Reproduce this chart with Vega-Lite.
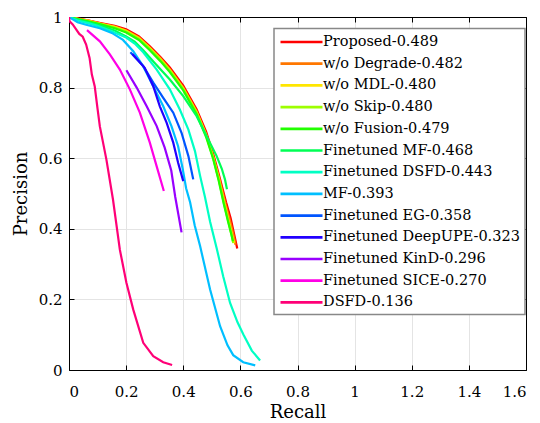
{
  "$schema": "https://vega.github.io/schema/vega-lite/v6.json",
  "autosize": "none",
  "width": 457,
  "height": 353,
  "padding": {"left": 69, "top": 17, "right": 14, "bottom": 53},
  "background": "white",
  "config": {
    "font": "DejaVu Serif",
    "view": {"stroke": null},
    "axis": {
      "domainColor": "black", "domainWidth": 1,
      "tickColor": "black", "tickSize": -5, "tickWidth": 1,
      "labelColor": "black", "labelFont": "DejaVu Serif", "labelFontSize": 15,
      "titleColor": "black", "titleFont": "DejaVu Serif", "titleFontSize": 18, "titleFontWeight": "normal",
      "gridColor": "#e4e4e4", "gridWidth": 1
    },
    "legend": {
      "orient": "none", "legendX": 205, "legendY": 11.5,
      "fillColor": "white", "strokeColor": "#888888", "strokeWidth": 1.5,
      "padding": 5, "rowPadding": 6.7,
      "symbolType": "M-1,0H5", "symbolSize": 196, "symbolStrokeWidth": 2.7,
      "labelFont": "DejaVu Serif", "labelFontSize": 14.5, "labelColor": "black",
      "labelOffset": 27, "labelLimit": 0
    }
  },
  "data": {"values": [
    {"method":"Proposed-0.489","recall":0,"precision":1.0},{"method":"Proposed-0.489","recall":0.03,"precision":0.996},{"method":"Proposed-0.489","recall":0.07,"precision":0.99},{"method":"Proposed-0.489","recall":0.11,"precision":0.983},{"method":"Proposed-0.489","recall":0.16,"precision":0.975},{"method":"Proposed-0.489","recall":0.2,"precision":0.965},{"method":"Proposed-0.489","recall":0.245,"precision":0.945},{"method":"Proposed-0.489","recall":0.283,"precision":0.917},{"method":"Proposed-0.489","recall":0.32,"precision":0.887},{"method":"Proposed-0.489","recall":0.353,"precision":0.857},{"method":"Proposed-0.489","recall":0.4,"precision":0.806},{"method":"Proposed-0.489","recall":0.447,"precision":0.738},{"method":"Proposed-0.489","recall":0.48,"precision":0.675},{"method":"Proposed-0.489","recall":0.505,"precision":0.612},{"method":"Proposed-0.489","recall":0.529,"precision":0.54},{"method":"Proposed-0.489","recall":0.55,"precision":0.475},{"method":"Proposed-0.489","recall":0.566,"precision":0.43},{"method":"Proposed-0.489","recall":0.578,"precision":0.385},{"method":"Proposed-0.489","recall":0.589,"precision":0.344},
    {"method":"w/o Degrade-0.482","recall":0,"precision":1.0},{"method":"w/o Degrade-0.482","recall":0.03,"precision":0.995},{"method":"w/o Degrade-0.482","recall":0.07,"precision":0.989},{"method":"w/o Degrade-0.482","recall":0.11,"precision":0.982},{"method":"w/o Degrade-0.482","recall":0.16,"precision":0.973},{"method":"w/o Degrade-0.482","recall":0.2,"precision":0.962},{"method":"w/o Degrade-0.482","recall":0.245,"precision":0.942},{"method":"w/o Degrade-0.482","recall":0.283,"precision":0.913},{"method":"w/o Degrade-0.482","recall":0.32,"precision":0.883},{"method":"w/o Degrade-0.482","recall":0.353,"precision":0.852},{"method":"w/o Degrade-0.482","recall":0.4,"precision":0.8},{"method":"w/o Degrade-0.482","recall":0.447,"precision":0.732},{"method":"w/o Degrade-0.482","recall":0.48,"precision":0.668},{"method":"w/o Degrade-0.482","recall":0.505,"precision":0.605},{"method":"w/o Degrade-0.482","recall":0.527,"precision":0.54},{"method":"w/o Degrade-0.482","recall":0.548,"precision":0.47},{"method":"w/o Degrade-0.482","recall":0.563,"precision":0.425},{"method":"w/o Degrade-0.482","recall":0.575,"precision":0.385},{"method":"w/o Degrade-0.482","recall":0.583,"precision":0.355},
    {"method":"w/o MDL-0.480","recall":0,"precision":1.0},{"method":"w/o MDL-0.480","recall":0.03,"precision":0.995},{"method":"w/o MDL-0.480","recall":0.07,"precision":0.989},{"method":"w/o MDL-0.480","recall":0.11,"precision":0.981},{"method":"w/o MDL-0.480","recall":0.16,"precision":0.972},{"method":"w/o MDL-0.480","recall":0.2,"precision":0.961},{"method":"w/o MDL-0.480","recall":0.245,"precision":0.94},{"method":"w/o MDL-0.480","recall":0.283,"precision":0.912},{"method":"w/o MDL-0.480","recall":0.32,"precision":0.881},{"method":"w/o MDL-0.480","recall":0.353,"precision":0.85},{"method":"w/o MDL-0.480","recall":0.4,"precision":0.798},{"method":"w/o MDL-0.480","recall":0.447,"precision":0.73},{"method":"w/o MDL-0.480","recall":0.48,"precision":0.666},{"method":"w/o MDL-0.480","recall":0.505,"precision":0.602},{"method":"w/o MDL-0.480","recall":0.525,"precision":0.54},{"method":"w/o MDL-0.480","recall":0.545,"precision":0.47},{"method":"w/o MDL-0.480","recall":0.56,"precision":0.42},{"method":"w/o MDL-0.480","recall":0.572,"precision":0.38},{"method":"w/o MDL-0.480","recall":0.578,"precision":0.36},
    {"method":"w/o Skip-0.480","recall":0,"precision":1.0},{"method":"w/o Skip-0.480","recall":0.03,"precision":0.994},{"method":"w/o Skip-0.480","recall":0.07,"precision":0.988},{"method":"w/o Skip-0.480","recall":0.11,"precision":0.98},{"method":"w/o Skip-0.480","recall":0.16,"precision":0.97},{"method":"w/o Skip-0.480","recall":0.2,"precision":0.959},{"method":"w/o Skip-0.480","recall":0.245,"precision":0.938},{"method":"w/o Skip-0.480","recall":0.283,"precision":0.91},{"method":"w/o Skip-0.480","recall":0.32,"precision":0.879},{"method":"w/o Skip-0.480","recall":0.353,"precision":0.848},{"method":"w/o Skip-0.480","recall":0.4,"precision":0.796},{"method":"w/o Skip-0.480","recall":0.447,"precision":0.728},{"method":"w/o Skip-0.480","recall":0.48,"precision":0.664},{"method":"w/o Skip-0.480","recall":0.505,"precision":0.6},{"method":"w/o Skip-0.480","recall":0.524,"precision":0.54},{"method":"w/o Skip-0.480","recall":0.543,"precision":0.47},{"method":"w/o Skip-0.480","recall":0.558,"precision":0.42},{"method":"w/o Skip-0.480","recall":0.57,"precision":0.38},{"method":"w/o Skip-0.480","recall":0.575,"precision":0.36},
    {"method":"w/o Fusion-0.479","recall":0,"precision":1.0},{"method":"w/o Fusion-0.479","recall":0.03,"precision":0.994},{"method":"w/o Fusion-0.479","recall":0.07,"precision":0.987},{"method":"w/o Fusion-0.479","recall":0.11,"precision":0.979},{"method":"w/o Fusion-0.479","recall":0.16,"precision":0.968},{"method":"w/o Fusion-0.479","recall":0.2,"precision":0.956},{"method":"w/o Fusion-0.479","recall":0.245,"precision":0.935},{"method":"w/o Fusion-0.479","recall":0.283,"precision":0.906},{"method":"w/o Fusion-0.479","recall":0.32,"precision":0.875},{"method":"w/o Fusion-0.479","recall":0.353,"precision":0.844},{"method":"w/o Fusion-0.479","recall":0.4,"precision":0.792},{"method":"w/o Fusion-0.479","recall":0.447,"precision":0.724},{"method":"w/o Fusion-0.479","recall":0.48,"precision":0.66},{"method":"w/o Fusion-0.479","recall":0.505,"precision":0.597},{"method":"w/o Fusion-0.479","recall":0.523,"precision":0.54},{"method":"w/o Fusion-0.479","recall":0.542,"precision":0.47},{"method":"w/o Fusion-0.479","recall":0.557,"precision":0.42},{"method":"w/o Fusion-0.479","recall":0.568,"precision":0.385},{"method":"w/o Fusion-0.479","recall":0.574,"precision":0.365},
    {"method":"Finetuned MF-0.468","recall":0,"precision":1.0},{"method":"Finetuned MF-0.468","recall":0.03,"precision":0.993},{"method":"Finetuned MF-0.468","recall":0.07,"precision":0.985},{"method":"Finetuned MF-0.468","recall":0.11,"precision":0.976},{"method":"Finetuned MF-0.468","recall":0.16,"precision":0.962},{"method":"Finetuned MF-0.468","recall":0.2,"precision":0.945},{"method":"Finetuned MF-0.468","recall":0.23,"precision":0.93},{"method":"Finetuned MF-0.468","recall":0.26,"precision":0.906},{"method":"Finetuned MF-0.468","recall":0.3,"precision":0.87},{"method":"Finetuned MF-0.468","recall":0.353,"precision":0.823},{"method":"Finetuned MF-0.468","recall":0.4,"precision":0.776},{"method":"Finetuned MF-0.468","recall":0.447,"precision":0.719},{"method":"Finetuned MF-0.468","recall":0.482,"precision":0.662},{"method":"Finetuned MF-0.468","recall":0.517,"precision":0.606},{"method":"Finetuned MF-0.468","recall":0.535,"precision":0.57},{"method":"Finetuned MF-0.468","recall":0.546,"precision":0.54},{"method":"Finetuned MF-0.468","recall":0.553,"precision":0.512},
    {"method":"Finetuned DSFD-0.443","recall":0,"precision":1.0},{"method":"Finetuned DSFD-0.443","recall":0.03,"precision":0.99},{"method":"Finetuned DSFD-0.443","recall":0.07,"precision":0.982},{"method":"Finetuned DSFD-0.443","recall":0.1,"precision":0.975},{"method":"Finetuned DSFD-0.443","recall":0.143,"precision":0.962},{"method":"Finetuned DSFD-0.443","recall":0.2,"precision":0.942},{"method":"Finetuned DSFD-0.443","recall":0.23,"precision":0.925},{"method":"Finetuned DSFD-0.443","recall":0.26,"precision":0.9},{"method":"Finetuned DSFD-0.443","recall":0.307,"precision":0.851},{"method":"Finetuned DSFD-0.443","recall":0.353,"precision":0.795},{"method":"Finetuned DSFD-0.443","recall":0.388,"precision":0.738},{"method":"Finetuned DSFD-0.443","recall":0.418,"precision":0.681},{"method":"Finetuned DSFD-0.443","recall":0.441,"precision":0.62},{"method":"Finetuned DSFD-0.443","recall":0.459,"precision":0.55},{"method":"Finetuned DSFD-0.443","recall":0.476,"precision":0.49},{"method":"Finetuned DSFD-0.443","recall":0.494,"precision":0.42},{"method":"Finetuned DSFD-0.443","recall":0.517,"precision":0.345},{"method":"Finetuned DSFD-0.443","recall":0.54,"precision":0.265},{"method":"Finetuned DSFD-0.443","recall":0.564,"precision":0.19},{"method":"Finetuned DSFD-0.443","recall":0.59,"precision":0.135},{"method":"Finetuned DSFD-0.443","recall":0.611,"precision":0.1},{"method":"Finetuned DSFD-0.443","recall":0.64,"precision":0.055},{"method":"Finetuned DSFD-0.443","recall":0.669,"precision":0.027},
    {"method":"MF-0.393","recall":0,"precision":1.0},{"method":"MF-0.393","recall":0.03,"precision":0.985},{"method":"MF-0.393","recall":0.06,"precision":0.978},{"method":"MF-0.393","recall":0.108,"precision":0.968},{"method":"MF-0.393","recall":0.15,"precision":0.955},{"method":"MF-0.393","recall":0.189,"precision":0.935},{"method":"MF-0.393","recall":0.225,"precision":0.903},{"method":"MF-0.393","recall":0.26,"precision":0.86},{"method":"MF-0.393","recall":0.295,"precision":0.804},{"method":"MF-0.393","recall":0.33,"precision":0.747},{"method":"MF-0.393","recall":0.359,"precision":0.69},{"method":"MF-0.393","recall":0.382,"precision":0.634},{"method":"MF-0.393","recall":0.398,"precision":0.57},{"method":"MF-0.393","recall":0.41,"precision":0.515},{"method":"MF-0.393","recall":0.424,"precision":0.475},{"method":"MF-0.393","recall":0.44,"precision":0.41},{"method":"MF-0.393","recall":0.459,"precision":0.351},{"method":"MF-0.393","recall":0.494,"precision":0.228},{"method":"MF-0.393","recall":0.529,"precision":0.124},{"method":"MF-0.393","recall":0.555,"precision":0.07},{"method":"MF-0.393","recall":0.575,"precision":0.042},{"method":"MF-0.393","recall":0.61,"precision":0.022},{"method":"MF-0.393","recall":0.652,"precision":0.013},
    {"method":"Finetuned EG-0.358","recall":0.215,"precision":0.9},{"method":"Finetuned EG-0.358","recall":0.26,"precision":0.861},{"method":"Finetuned EG-0.358","recall":0.295,"precision":0.814},{"method":"Finetuned EG-0.358","recall":0.33,"precision":0.771},{"method":"Finetuned EG-0.358","recall":0.365,"precision":0.729},{"method":"Finetuned EG-0.358","recall":0.394,"precision":0.672},{"method":"Finetuned EG-0.358","recall":0.418,"precision":0.606},{"method":"Finetuned EG-0.358","recall":0.435,"precision":0.54},
    {"method":"Finetuned DeepUPE-0.323","recall":0.222,"precision":0.895},{"method":"Finetuned DeepUPE-0.323","recall":0.265,"precision":0.856},{"method":"Finetuned DeepUPE-0.323","recall":0.295,"precision":0.804},{"method":"Finetuned DeepUPE-0.323","recall":0.318,"precision":0.747},{"method":"Finetuned DeepUPE-0.323","recall":0.342,"precision":0.7},{"method":"Finetuned DeepUPE-0.323","recall":0.365,"precision":0.644},{"method":"Finetuned DeepUPE-0.323","recall":0.382,"precision":0.587},{"method":"Finetuned DeepUPE-0.323","recall":0.4,"precision":0.535},
    {"method":"Finetuned KinD-0.296","recall":0.201,"precision":0.849},{"method":"Finetuned KinD-0.296","recall":0.237,"precision":0.8},{"method":"Finetuned KinD-0.296","recall":0.272,"precision":0.747},{"method":"Finetuned KinD-0.296","recall":0.307,"precision":0.691},{"method":"Finetuned KinD-0.296","recall":0.335,"precision":0.63},{"method":"Finetuned KinD-0.296","recall":0.358,"precision":0.565},{"method":"Finetuned KinD-0.296","recall":0.372,"precision":0.49},{"method":"Finetuned KinD-0.296","recall":0.383,"precision":0.44},{"method":"Finetuned KinD-0.296","recall":0.394,"precision":0.39},
    {"method":"Finetuned SICE-0.270","recall":0.063,"precision":0.963},{"method":"Finetuned SICE-0.270","recall":0.108,"precision":0.931},{"method":"Finetuned SICE-0.270","recall":0.143,"precision":0.894},{"method":"Finetuned SICE-0.270","recall":0.178,"precision":0.851},{"method":"Finetuned SICE-0.270","recall":0.213,"precision":0.795},{"method":"Finetuned SICE-0.270","recall":0.248,"precision":0.729},{"method":"Finetuned SICE-0.270","recall":0.283,"precision":0.644},{"method":"Finetuned SICE-0.270","recall":0.307,"precision":0.577},{"method":"Finetuned SICE-0.270","recall":0.332,"precision":0.507},
    {"method":"DSFD-0.136","recall":0,"precision":1.0},{"method":"DSFD-0.136","recall":0.002,"precision":0.988},{"method":"DSFD-0.136","recall":0.013,"precision":0.979},{"method":"DSFD-0.136","recall":0.025,"precision":0.965},{"method":"DSFD-0.136","recall":0.036,"precision":0.952},{"method":"DSFD-0.136","recall":0.048,"precision":0.944},{"method":"DSFD-0.136","recall":0.06,"precision":0.922},{"method":"DSFD-0.136","recall":0.072,"precision":0.884},{"method":"DSFD-0.136","recall":0.08,"precision":0.837},{"method":"DSFD-0.136","recall":0.09,"precision":0.804},{"method":"DSFD-0.136","recall":0.1,"precision":0.74},{"method":"DSFD-0.136","recall":0.108,"precision":0.69},{"method":"DSFD-0.136","recall":0.131,"precision":0.596},{"method":"DSFD-0.136","recall":0.154,"precision":0.483},{"method":"DSFD-0.136","recall":0.178,"precision":0.341},{"method":"DSFD-0.136","recall":0.201,"precision":0.247},{"method":"DSFD-0.136","recall":0.225,"precision":0.171},{"method":"DSFD-0.136","recall":0.26,"precision":0.077},{"method":"DSFD-0.136","recall":0.295,"precision":0.039},{"method":"DSFD-0.136","recall":0.33,"precision":0.022},{"method":"DSFD-0.136","recall":0.361,"precision":0.014}
  ]},
  "layer": [
    {
      "mark": {"type": "line", "strokeWidth": 2.2, "clip": true},
      "encoding": {
        "x": {"field": "recall", "type": "quantitative", "title": "Recall",
              "scale": {"domain": [0, 1.6], "nice": false},
              "axis": {"orient": "bottom", "values": [0,0.2,0.4,0.6,0.8,1,1.2,1.4,1.6], "labelExpr": "format(datum.value, '~g')", "labelPadding": 19, "titlePadding": 4, "grid": true}},
        "y": {"field": "precision", "type": "quantitative", "title": "Precision",
              "scale": {"domain": [0, 1], "nice": false},
              "axis": {"orient": "left", "values": [0,0.2,0.4,0.6,0.8,1], "labelExpr": "format(datum.value, '~g')", "labelPadding": 12, "titlePadding": 8, "grid": true}},
        "color": {"field": "method", "type": "nominal", "title": null,
                  "scale": {
                    "domain": ["Proposed-0.489","w/o Degrade-0.482","w/o MDL-0.480","w/o Skip-0.480","w/o Fusion-0.479","Finetuned MF-0.468","Finetuned DSFD-0.443","MF-0.393","Finetuned EG-0.358","Finetuned DeepUPE-0.323","Finetuned KinD-0.296","Finetuned SICE-0.270","DSFD-0.136"],
                    "range": ["#ff0000","#ff7700","#ffe600","#9dff00","#22ff00","#00ff55","#00ffc4","#00bfff","#0055ff","#2200ff","#9900ff","#ff00e6","#ff0077"]
                  }}
      }
    },
    {
      "mark": {"type": "line", "opacity": 0},
      "encoding": {
        "x": {"field": "recall", "type": "quantitative",
              "axis": {"orient": "top", "values": [0,0.2,0.4,0.6,0.8,1,1.2,1.4,1.6], "labels": false, "title": null, "grid": false}},
        "y": {"field": "precision", "type": "quantitative",
              "axis": {"orient": "right", "values": [0,0.2,0.4,0.6,0.8,1], "labels": false, "title": null, "grid": false}},
        "detail": {"field": "method", "type": "nominal"}
      }
    }
  ],
  "resolve": {"axis": {"x": "independent", "y": "independent"}}
}
